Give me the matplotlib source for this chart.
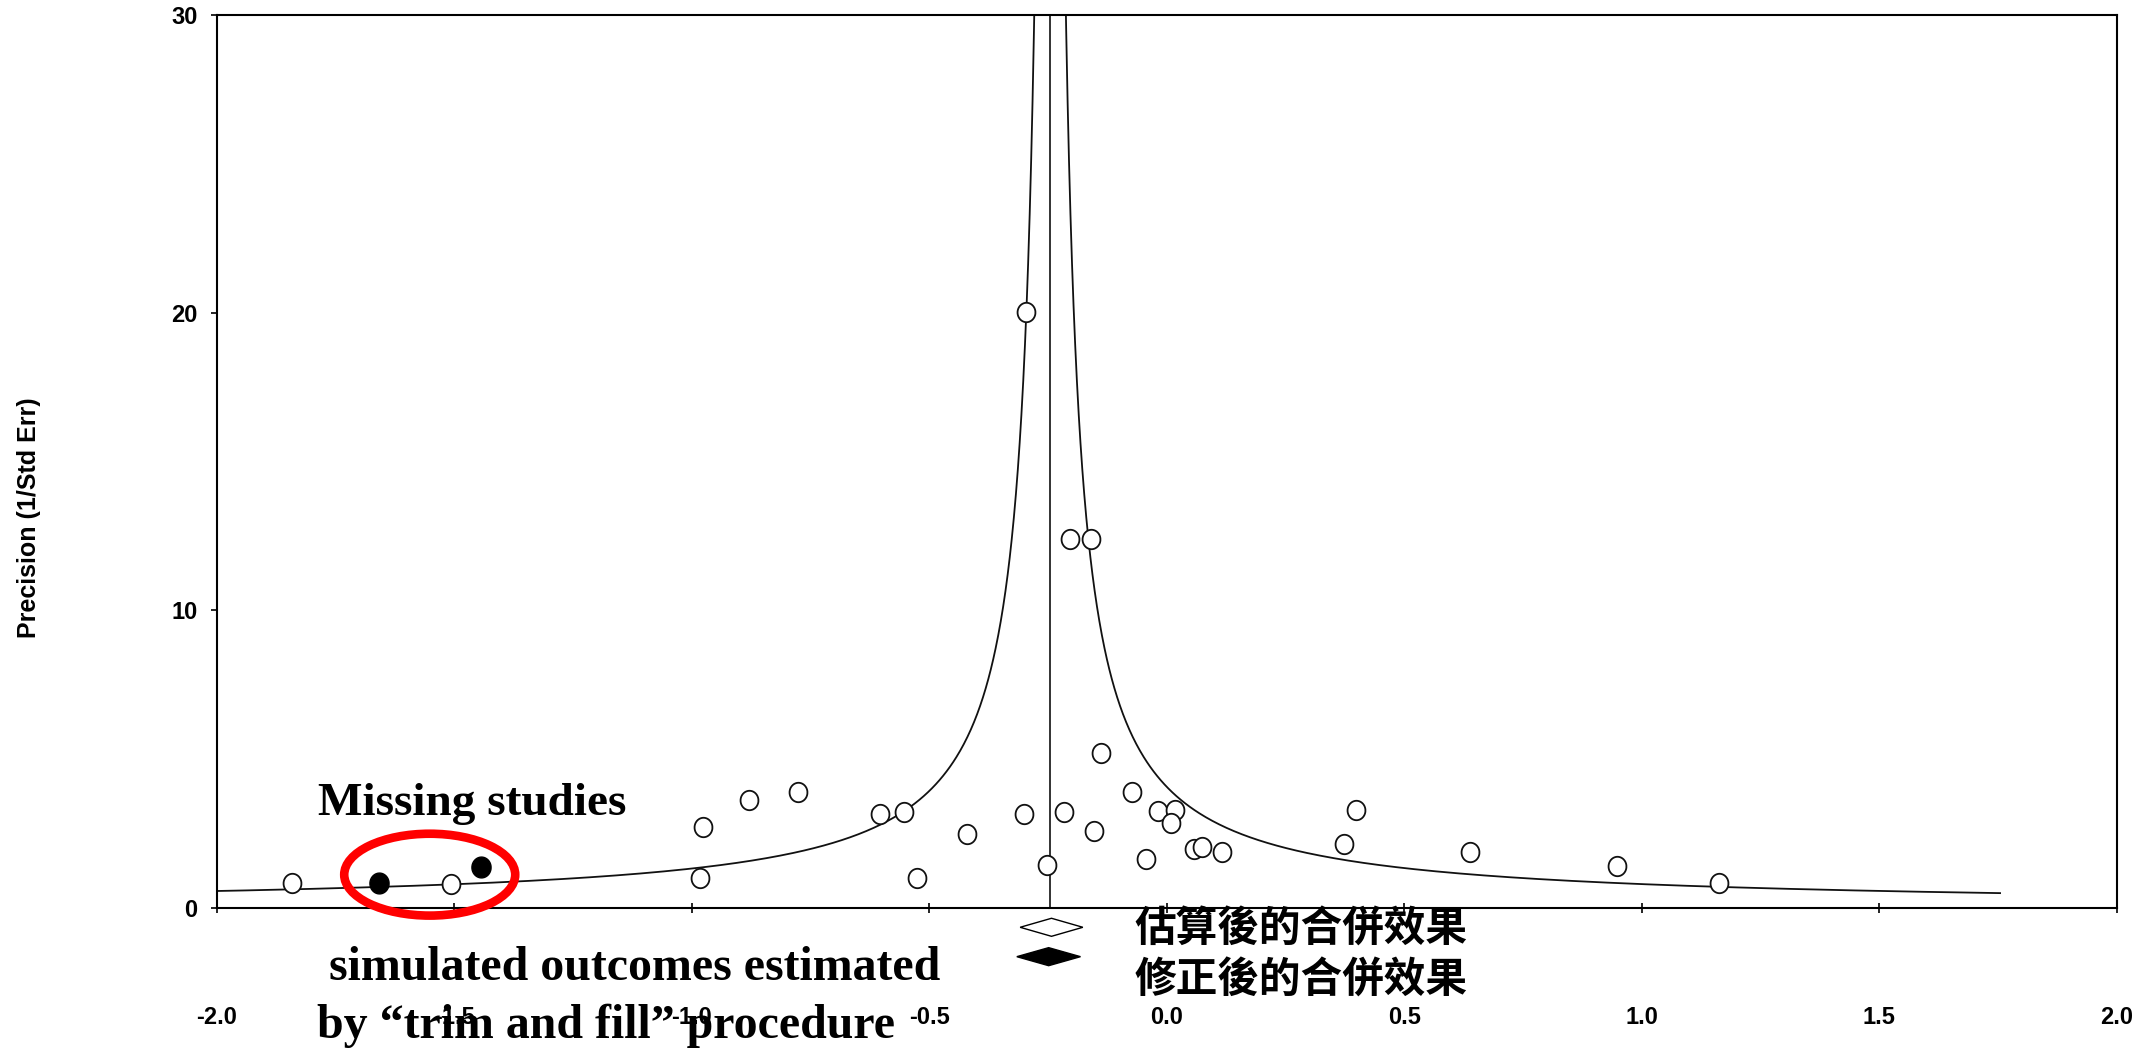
import numpy as np
import matplotlib
matplotlib.use('Agg')
import matplotlib.pyplot as plt
from matplotlib.patches import Ellipse, Polygon
from matplotlib.transforms import blended_transform_factory

# observed studies (effect size, precision = 1/SE)
effect_obs = [-1.841, -1.507, -0.977, -0.984, -0.880, -0.777, -0.604, -0.554,
              -0.526, -0.420, -0.301, -0.252, -0.217, -0.154, -0.138, -0.073,
              -0.019, 0.016, 0.009, -0.045, 0.057, 0.073, 0.116, 0.373,
              0.399, 0.638, 0.948, 1.162, -0.296, -0.203, -0.159]
prec_obs = [0.83, 0.80, 2.72, 1.00, 3.63, 3.91, 3.16, 3.24,
            1.00, 2.49, 3.16, 1.45, 3.24, 2.57, 5.22, 3.91,
            3.27, 3.29, 2.87, 1.65, 1.98, 2.04, 1.87, 2.15,
            3.29, 1.87, 1.41, 0.85, 20.03, 12.40, 12.40]

# imputed studies from trim and fill
effect_fill = [-1.659, -1.445]
prec_fill = [0.85, 1.39]

# pooled effects: observed (open) and adjusted (filled)
funnel_center = -0.246
pooled = [-0.243, -0.249]
pooled_lo = [-0.309, -0.316]
pooled_hi = [-0.177, -0.182]

xticks = [-2.0, -1.5, -1.0, -0.5, 0.0, 0.5, 1.0, 1.5, 2.0]
yticks = [0, 10, 20, 30]

plt.rcParams['font.family'] = ['Liberation Sans', 'DejaVu Sans']

fig = plt.figure(figsize=(21.52, 10.53), dpi=100)
ax = fig.add_axes([0.1008, 0.1377, 0.8829, 0.8481])

# funnel
p = np.geomspace(0.5, 32, 500)
ax.plot(funnel_center - 1 / p, p, color='#111111', lw=1.3, zorder=2)
ax.plot(funnel_center + 1 / p, p, color='#111111', lw=1.3, zorder=2)
ax.axvline(funnel_center, color='#111111', lw=1.2, zorder=2)

# slightly tall ellipse marker
t = np.linspace(0, 2 * np.pi, 40)
ell = list(zip(0.92 * np.cos(t), np.sin(t)))

ax.plot(effect_obs, prec_obs, ls='none', marker=ell, markersize=14,
        mfc='white', mec='#111111', mew=1.3, zorder=3)
ax.plot(effect_fill, prec_fill, ls='none', marker=ell, markersize=15,
        mfc='black', mec='black', mew=1, zorder=3)

ax.set_xlim(-2, 2)
ax.set_ylim(0, 30)
ax.set_xticks(xticks)
ax.set_xticklabels(['%.1f' % v for v in xticks])
ax.set_yticks(yticks)
for s in ax.spines.values():
    s.set_linewidth(1.5)
ax.tick_params(axis='x', direction='inout', length=7, width=1.2, pad=67,
               labelsize=17)
ax.tick_params(axis='y', direction='out', length=4, width=1.2, pad=10,
               labelsize=17)
for lab in ax.get_xticklabels() + ax.get_yticklabels():
    lab.set_fontweight('bold')

# pooled diamonds below the axis
tr = blended_transform_factory(ax.transData, ax.transAxes)
ypos = [-0.0216, -0.0545]
fills = ['white', 'black']
for i in range(2):
    yc = ypos[i]
    h = 0.0101
    d = Polygon([(pooled_lo[i], yc), (pooled[i], yc + h), (pooled_hi[i], yc),
                 (pooled[i], yc - h)], closed=True, transform=tr,
                facecolor=fills[i], edgecolor='black', lw=1.0, clip_on=False)
    ax.add_patch(d)

# red ellipse around the missing studies
ex = np.mean(effect_fill)
ey = np.mean(prec_fill)
ax.add_patch(Ellipse((ex, ey), 0.36, 2.75, fill=False, edgecolor='#ff0000',
                     lw=6.2, clip_on=False, zorder=4))

fig.text(0.0135, 0.5081, 'Precision (1/Std Err)', rotation=90, ha='center',
         va='center', fontsize=18, fontweight='bold')

serif = ['Liberation Serif', 'DejaVu Serif']
fig.text(0.1478, 0.2260, 'Missing studies', family=serif, fontsize=34,
         fontweight='bold', va='baseline', ha='left')
fig.text(0.1473, 0.0693, ' simulated outcomes estimated', family=serif,
         fontsize=34.5, fontweight='bold', va='baseline', ha='left')
fig.text(0.1473, 0.0140, 'by \u201ctrim and fill\u201d procedure', family=serif,
         fontsize=34.5, fontweight='bold', va='baseline', ha='left')

cjk = ['Noto Sans CJK TC', 'DejaVu Sans']
fig.text(0.527, 0.1168, '估算後的合併效果', family=cjk, fontsize=30,
         fontweight='bold', va='center', ha='left')
fig.text(0.527, 0.0684, '修正後的合併效果', family=cjk, fontsize=30,
         fontweight='bold', va='center', ha='left')

fig.savefig('out.png', dpi=100)
